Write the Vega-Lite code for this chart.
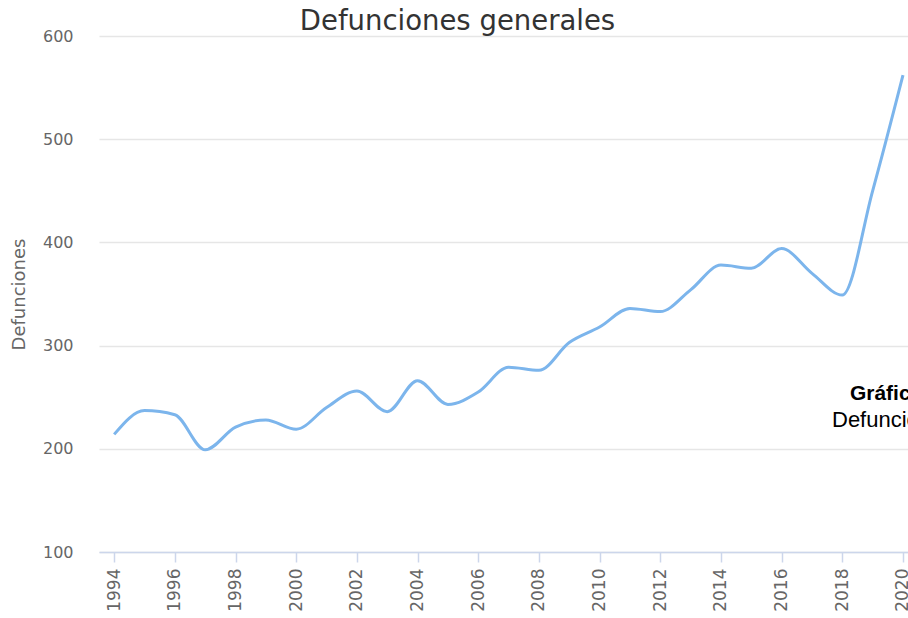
{
  "$schema": "https://vega.github.io/schema/vega-lite/v6.json",
  "autosize": {"type": "none"},
  "padding": {"left": 99, "top": 36, "right": 0, "bottom": 66},
  "width": 809,
  "height": 516,
  "background": "white",
  "config": {"view": {"stroke": null}, "font": "DejaVu Sans"},
  "title": {
    "text": "Defunciones generales",
    "fontSize": 27.5,
    "fontWeight": "normal",
    "color": "#333333",
    "font": "DejaVu Sans",
    "anchor": "middle",
    "frame": "group",
    "dx": -46,
    "baseline": "alphabetic",
    "offset": -29
  },
  "datasets": {
    "series": [
      {"year": 1994, "deaths": 214},
      {"year": 1995, "deaths": 237},
      {"year": 1996, "deaths": 233},
      {"year": 1997, "deaths": 199},
      {"year": 1998, "deaths": 221},
      {"year": 1999, "deaths": 228},
      {"year": 2000, "deaths": 219},
      {"year": 2001, "deaths": 240},
      {"year": 2002, "deaths": 256},
      {"year": 2003, "deaths": 236},
      {"year": 2004, "deaths": 266},
      {"year": 2005, "deaths": 243},
      {"year": 2006, "deaths": 255},
      {"year": 2007, "deaths": 279},
      {"year": 2008, "deaths": 276},
      {"year": 2009, "deaths": 303},
      {"year": 2010, "deaths": 318},
      {"year": 2011, "deaths": 336},
      {"year": 2012, "deaths": 333},
      {"year": 2013, "deaths": 354},
      {"year": 2014, "deaths": 378},
      {"year": 2015, "deaths": 375},
      {"year": 2016, "deaths": 394},
      {"year": 2017, "deaths": 370},
      {"year": 2018, "deaths": 349},
      {"year": 2019, "deaths": 450},
      {"year": 2020, "deaths": 562}
    ],
    "notes": [
      {"year": 2018.25, "deaths": 247, "label": "Gráfica", "kind": "head"},
      {"year": 2017.66, "deaths": 221, "label": "Defunciones", "kind": "sub"}
    ]
  },
  "layer": [
    {
      "data": {"name": "series"},
      "mark": {"type": "line", "interpolate": "monotone", "color": "#7cb5ec", "strokeWidth": 3, "clip": false},
      "encoding": {
        "x": {
          "field": "year",
          "type": "quantitative",
          "scale": {"domain": [1993.5, 2020.165], "nice": false, "zero": false},
          "axis": {
            "title": null,
            "values": [1994, 1996, 1998, 2000, 2002, 2004, 2006, 2008, 2010, 2012, 2014, 2016, 2018, 2020],
            "format": "d",
            "labelAngle": -90,
            "labelFontSize": 17,
            "labelColor": "#666666",
            "labelPadding": 6,
            "tickColor": "#ccd6eb",
            "tickSize": 10,
            "tickWidth": 1.5,
            "domainColor": "#ccd6eb",
            "domainWidth": 1.5,
            "grid": false,
            "labelFlush": false,
            "labelOverlap": false
          }
        },
        "y": {
          "field": "deaths",
          "type": "quantitative",
          "scale": {"domain": [100, 600], "nice": false, "zero": false},
          "axis": {
            "title": "Defunciones",
            "titleFontSize": 18,
            "titleFontWeight": "normal",
            "titleColor": "#666666",
            "titlePadding": 14,
            "values": [100, 200, 300, 400, 500, 600],
            "labelFontSize": 16,
            "labelColor": "#666666",
            "labelPadding": 26,
            "ticks": false,
            "domain": false,
            "grid": true,
            "gridColor": "#e6e6e6",
            "gridWidth": 1.5
          }
        }
      }
    },
    {
      "data": {"name": "notes"},
      "transform": [{"filter": "datum.kind === 'head'"}],
      "mark": {"type": "text", "align": "left", "baseline": "alphabetic", "font": "Liberation Sans", "fontSize": 21, "fontWeight": "bold", "color": "#000000", "clip": false},
      "encoding": {
        "x": {"field": "year", "type": "quantitative"},
        "y": {"field": "deaths", "type": "quantitative"},
        "text": {"field": "label"}
      }
    },
    {
      "data": {"name": "notes"},
      "transform": [{"filter": "datum.kind === 'sub'"}],
      "mark": {"type": "text", "align": "left", "baseline": "alphabetic", "font": "Liberation Sans", "fontSize": 22, "color": "#000000", "clip": false},
      "encoding": {
        "x": {"field": "year", "type": "quantitative"},
        "y": {"field": "deaths", "type": "quantitative"},
        "text": {"field": "label"}
      }
    }
  ]
}
